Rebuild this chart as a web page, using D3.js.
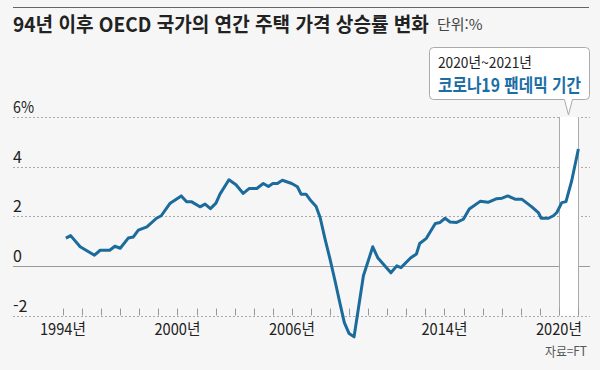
<!DOCTYPE html>
<html lang="ko">
<head>
<meta charset="UTF-8">
<title>OECD 주택 가격 상승률</title>
<style>
  body { margin: 0; background: #f6f6f6; }
  text { font-family: "Noto Sans CJK KR", "Noto Sans", sans-serif; }
</style>
</head>
<body>
<div id="chart"></div>
<script src="https://d3js.org/d3.v7.min.js"></script>
<script>
// data (year as decimal, % change)
const years = [1994.15, 1994.40, 1994.90, 1995.65, 1995.95, 1996.45, 1996.72, 1997.00, 1997.42, 1997.68,
  1997.95, 1998.40, 1998.90, 1999.15, 1999.60, 2000.20, 2000.48, 2000.75, 2001.18, 2001.45,
  2001.73, 2002.02, 2002.23, 2002.70, 2003.07, 2003.45, 2003.77, 2004.16, 2004.50, 2004.77,
  2005.00, 2005.24, 2005.50, 2005.99, 2006.29, 2006.48, 2006.74, 2007.00, 2007.27, 2007.48,
  2007.74, 2008.00, 2008.26, 2008.53, 2008.75, 2009.00, 2009.26, 2009.75, 2010.24, 2010.50,
  2011.19, 2011.50, 2011.72, 2012.22, 2012.53, 2012.70, 2013.05, 2013.52, 2013.77, 2014.03,
  2014.29, 2014.64, 2014.99, 2015.30, 2015.87, 2016.28, 2016.74, 2017.02, 2017.32, 2017.70,
  2018.05, 2018.58, 2018.92, 2019.07, 2019.45, 2019.71, 2019.89, 2020.15, 2020.37, 2020.67,
  2021.02];
const values = [1.12, 1.22, 0.77, 0.43, 0.63, 0.63, 0.79, 0.71, 1.12, 1.16,
  1.44, 1.57, 1.92, 2.02, 2.51, 2.82, 2.58, 2.58, 2.38, 2.49,
  2.31, 2.53, 2.89, 3.47, 3.27, 2.92, 3.12, 3.12, 3.32, 3.20,
  3.32, 3.32, 3.45, 3.32, 3.19, 2.89, 2.89, 2.62, 2.39, 1.95,
  1.08, 0.27, -0.60, -1.54, -2.29, -2.73, -2.86, -0.40, 0.77, 0.33,
  -0.28, 0.00, -0.07, 0.32, 0.48, 0.90, 1.11, 1.71, 1.75, 1.92,
  1.77, 1.75, 1.88, 2.29, 2.60, 2.56, 2.71, 2.73, 2.82, 2.69,
  2.69, 2.38, 2.15, 1.92, 1.92, 2.02, 2.15, 2.55, 2.59, 3.43,
  4.71];
const yTicks = [-2, 0, 2, 4, 6];
const yTickLabels = ["-2", "0", "2", "4", "6%"];
const xLabelYears = [1994, 2000, 2006, 2014, 2020];
const pandemic = [2020, 2021];

const data = years.map((d, i) => ({ year: d, value: values[i] }));

const width = 600, height = 370;
const left = 13, right = 590;

const svg = d3.select("#chart").append("svg")
  .attr("width", width)
  .attr("height", height);

svg.append("rect").attr("width", width).attr("height", height).attr("fill", "#f6f6f6");

const x = d3.scaleLinear().domain([1994, 2021]).range([63, 578]);
const y = d3.scaleLinear().domain([-2, 6]).range([315.5, 117]);

// the original uses a narrow font: squeeze text horizontally to a target width
function narrowText(parent, str, px, py, size, w, anchor) {
  const g = parent.append("g");
  const t = g.append("text")
    .attr("font-size", size)
    .text(str);
  const natural = t.node().getComputedTextLength();
  const sx = Math.min(1, w / natural);
  let x0 = px;
  if (anchor === "middle") x0 = px - natural * sx / 2;
  if (anchor === "end") x0 = px - natural * sx;
  g.attr("transform", `translate(${x0},${py}) scale(${sx},1)`);
  return t;
}

// top rule
svg.append("line")
  .attr("x1", left).attr("x2", 589).attr("y1", 7.5).attr("y2", 7.5)
  .attr("stroke", "#666").attr("stroke-width", 1);

// title
narrowText(svg, "94년 이후 OECD 국가의 연간 주택 가격 상승률 변화", left, 32, 20, 413)
  .attr("font-weight", "bold").attr("fill", "#222");
narrowText(svg, "단위:%", 437, 30, 15, 46)
  .attr("fill", "#444");

// grid lines
svg.append("g").selectAll("line")
  .data(yTicks)
  .join("line")
  .attr("x1", left).attr("x2", right)
  .attr("y1", d => Math.round(y(d)) + 0.5).attr("y2", d => Math.round(y(d)) + 0.5)
  .attr("stroke", d => d === 0 ? "#9a9a9a" : "#aaa")
  .attr("stroke-width", 1)
  .attr("stroke-dasharray", d => d === 0 ? null : "2,2");

// y labels
yTicks.forEach((d, i) => {
  const lab = yTickLabels[i];
  narrowText(svg, lab, left, y(d) - 4, 16, lab === "6%" ? 21 : lab === "-2" ? 16 : 9)
    .attr("fill", "#222");
});

// pandemic band
svg.append("rect")
  .attr("x", x(pandemic[0])).attr("width", x(pandemic[1]) - x(pandemic[0]))
  .attr("y", y(6)).attr("height", y(-2) - y(6))
  .attr("fill", "#fff");
svg.append("g").selectAll("line")
  .data(pandemic)
  .join("line")
  .attr("x1", d => Math.round(x(d)) + 0.5).attr("x2", d => Math.round(x(d)) + 0.5)
  .attr("y1", y(6)).attr("y2", y(-2))
  .attr("stroke", "#aaa");

// x ticks (yearly)
svg.append("g").selectAll("line")
  .data(d3.range(1994, 2022))
  .join("line")
  .attr("x1", d => Math.round(x(d)) + 0.5).attr("x2", d => Math.round(x(d)) + 0.5)
  .attr("y1", y(-2) - 7).attr("y2", y(-2))
  .attr("stroke", "#999");

// x labels
xLabelYears.forEach(d => {
  narrowText(svg, d + "년", x(d), 335, 16, 46, "middle").attr("fill", "#222");
});

// line
svg.append("path")
  .datum(data)
  .attr("fill", "none")
  .attr("stroke", "#1b6b9c")
  .attr("stroke-width", 3)
  .attr("stroke-linejoin", "round")
  .attr("d", d3.line().x(d => x(d.year)).y(d => y(d.value)));

// callout
const bx0 = 429.5, bx1 = 589.5, by0 = 47.5, by1 = 99.5, r = 4;
const tip = x((pandemic[0] + pandemic[1]) / 2);
const callout = d3.path();
callout.moveTo(bx0 + r, by0);
callout.lineTo(bx1 - r, by0);
callout.arcTo(bx1, by0, bx1, by0 + r, r);
callout.lineTo(bx1, by1 - r);
callout.arcTo(bx1, by1, bx1 - r, by1, r);
callout.lineTo(tip + 4, by1);
callout.lineTo(tip, 115);
callout.lineTo(tip - 4, by1);
callout.lineTo(bx0 + r, by1);
callout.arcTo(bx0, by1, bx0, by1 - r, r);
callout.lineTo(bx0, by0 + r);
callout.arcTo(bx0, by0, bx0 + r, by0, r);
callout.closePath();
svg.append("path")
  .attr("d", callout.toString())
  .attr("fill", "#fff")
  .attr("stroke", "#aaa");

narrowText(svg, "2020년~2021년", 438, 68, 15, 94).attr("fill", "#222");
narrowText(svg, "코로나19 팬데믹 기간", 438, 92, 18, 142)
  .attr("font-weight", "bold").attr("fill", "#1b6ea5");

// source
narrowText(svg, "자료=FT", 587, 356, 13, 42, "end").attr("fill", "#555");
</script>
</body>
</html>
